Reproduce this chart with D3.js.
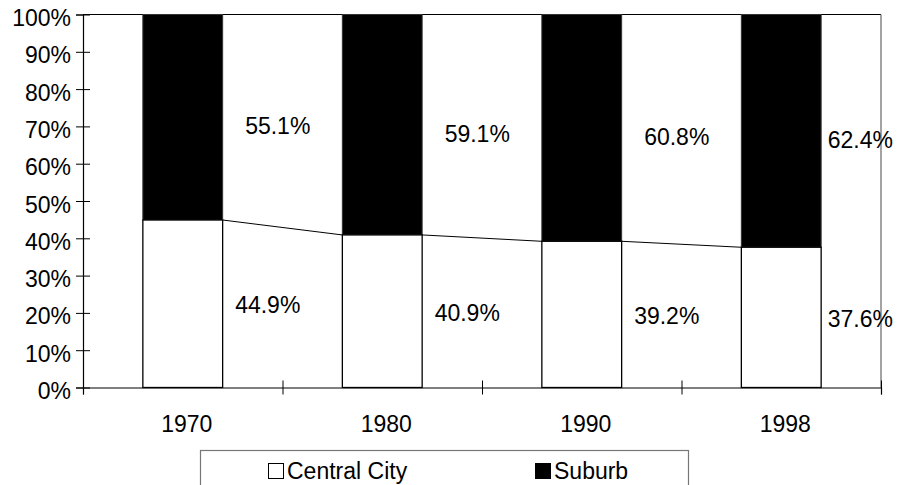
<!DOCTYPE html>
<html>
<head>
<meta charset="utf-8">
<script src="https://cdn.jsdelivr.net/npm/d3@7"></script>
<style>
  html, body { margin: 0; padding: 0; background: #fff; }
  svg { display: block; }
  text { font-family: "Liberation Sans", Arial, sans-serif; fill: #000; }
</style>
</head>
<body>
<svg id="chart" width="907" height="485"></svg>
<script>
// Share of metropolitan population, central city vs. suburb
const years = ["1970", "1980", "1990", "1998"];
const centralCity = [44.9, 40.9, 39.2, 37.6];
const suburb = [55.1, 59.1, 60.8, 62.4];
const yTicks = [0, 10, 20, 30, 40, 50, 60, 70, 80, 90, 100];
const seriesNames = ["Central City", "Suburb"];

const W = 907, H = 485;
const plot = { left: 83, right: 881, top: 14.5, bottom: 387.5 };
const fontSize = 23;

const svg = d3.select("#chart");

const x = d3.scaleBand()
  .domain(years)
  .range([plot.left, plot.right])
  .paddingInner(0.6)
  .paddingOuter(0.3);

// category boundaries for the x-axis tick marks
const xEdge = d3.scaleLinear().domain([0, years.length]).range([plot.left, plot.right]);

const y = d3.scaleLinear().domain([0, 100]).range([plot.bottom, plot.top]);

const rows = years.map((yr, i) => ({ year: yr, cc: centralCity[i], sub: suburb[i] }));

// plot area frame (top and right edges)
svg.append("line")
  .attr("x1", plot.left).attr("x2", plot.right)
  .attr("y1", y(100)).attr("y2", y(100))
  .attr("stroke", "#000").attr("stroke-width", 1);
svg.append("line")
  .attr("x1", plot.right).attr("x2", plot.right)
  .attr("y1", y(100)).attr("y2", plot.bottom)
  .attr("stroke", "#666").attr("stroke-width", 1.2);

// suburb segments (stacked on top)
svg.append("g").selectAll("rect").data(rows).join("rect")
  .attr("x", d => x(d.year))
  .attr("width", x.bandwidth())
  .attr("y", d => y(d.cc + d.sub))
  .attr("height", d => y(d.cc) - y(d.cc + d.sub))
  .attr("fill", "#000")
  .attr("stroke", "#333").attr("stroke-width", 1);

// central city segments
svg.append("g").selectAll("rect").data(rows).join("rect")
  .attr("x", d => x(d.year))
  .attr("width", x.bandwidth())
  .attr("y", d => y(d.cc))
  .attr("height", d => y(0) - y(d.cc))
  .attr("fill", "#fff")
  .attr("stroke", "#000").attr("stroke-width", 1.3);

// series lines joining the central city tops
const pairs = d3.pairs(rows);
svg.append("g").selectAll("line").data(pairs).join("line")
  .attr("x1", p => x(p[0].year) + x.bandwidth())
  .attr("y1", p => y(p[0].cc))
  .attr("x2", p => x(p[1].year))
  .attr("y2", p => y(p[1].cc))
  .attr("stroke", "#000").attr("stroke-width", 1);

// y axis with crossing ticks
const yAxis = svg.append("g")
  .attr("transform", `translate(${plot.left},0)`)
  .call(d3.axisLeft(y).tickValues(yTicks).tickSize(7).tickFormat(d => d + "%"));
yAxis.select(".domain").attr("stroke", "#000").attr("stroke-width", 1.2);
yAxis.selectAll(".tick line").attr("x1", 7).attr("stroke", "#000");
yAxis.selectAll(".tick text")
  .attr("x", -12).attr("dy", "0.48em")
  .style("font-size", fontSize + "px")
  .style("font-family", '"Liberation Sans", Arial, sans-serif')
  .attr("fill", "#000");

// x axis: ticks at category boundaries, labels centered in categories
const xAxis = svg.append("g")
  .attr("transform", `translate(0,${plot.bottom})`)
  .call(d3.axisBottom(xEdge).tickValues(d3.range(years.length + 1)).tickSize(7).tickFormat(""));
xAxis.select(".domain").attr("stroke", "#000").attr("stroke-width", 1.2);
xAxis.selectAll(".tick line").attr("y1", -7).attr("stroke", "#000");

svg.append("g").selectAll("text").data(years).join("text")
  .attr("x", d => x(d) + x.bandwidth() / 2 + 4)
  .attr("y", 431.5)
  .attr("text-anchor", "middle")
  .style("font-size", fontSize + "px")
  .text(d => d);

// value labels
const fmt = v => v.toFixed(1) + "%";
const maxRight = 893;
const subLabels = svg.append("g").selectAll("text").data(rows).join("text")
  .attr("y", d => y(d.cc + d.sub / 2) + 9)
  .attr("dy", "0.358em")
  .attr("text-anchor", "middle")
  .style("font-size", fontSize + "px")
  .text(d => fmt(d.sub));
subLabels.attr("x", function(d) {
  const cx = x(d.year) + x.bandwidth() / 2 + 95;
  const half = this.getComputedTextLength() / 2;
  return Math.min(cx, maxRight - half);
});

const ccLabels = svg.append("g").selectAll("text").data(rows).join("text")
  .attr("y", d => y(d.cc / 2) + 1.5)
  .attr("dy", "0.358em")
  .attr("text-anchor", "middle")
  .style("font-size", fontSize + "px")
  .text(d => fmt(d.cc));
ccLabels.attr("x", function(d) {
  const cx = x(d.year) + x.bandwidth() / 2 + 85;
  const half = this.getComputedTextLength() / 2;
  return Math.min(cx, maxRight - half);
});

// legend
const legend = svg.append("g");
legend.append("rect")
  .attr("x", 200.5).attr("y", 450.5)
  .attr("width", 488).attr("height", 50)
  .attr("fill", "#fff").attr("stroke", "#777").attr("stroke-width", 1.2);

const legendItems = [
  { name: seriesNames[0], fill: "#fff", sx: 268 },
  { name: seriesNames[1], fill: "#000", sx: 535 }
];
const li = legend.selectAll("g.item").data(legendItems).join("g").attr("class", "item");
li.append("rect")
  .attr("x", d => d.sx + 0.5).attr("y", 463.5)
  .attr("width", 15).attr("height", 15)
  .attr("fill", d => d.fill).attr("stroke", "#000").attr("stroke-width", 1);
li.append("text")
  .attr("x", d => d.sx + 19).attr("y", 479)
  .style("font-size", fontSize + "px")
  .text(d => d.name);
</script>
</body>
</html>
